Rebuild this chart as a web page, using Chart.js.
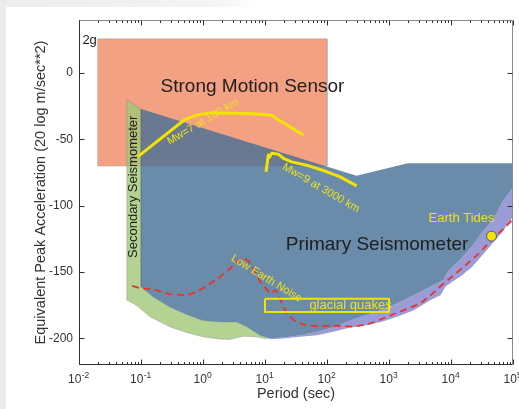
<!DOCTYPE html>
<html>
<head>
<meta charset="utf-8">
<script src="https://cdn.jsdelivr.net/npm/chart.js@4.4.1/dist/chart.umd.min.js"></script>
<style>
html,body{margin:0;padding:0;background:#fff;}
canvas{display:block;}
</style>
</head>
<body>
<canvas id="c" width="519" height="409"></canvas>
<script>
// ---------------- data (period in seconds, acceleration in dB) ----------------
const xMajorTicks = [1e-2, 1e-1, 1, 10, 100, 1e3, 1e4, 1e5];
const xTickBase = '10';
const xTickExponents = ['-2', '-1', '0', '1', '2', '3', '4', '5'];
const yTicks = [-200, -150, -100, -50, 0];
const yTickLabels = ['-200', '-150', '-100', '-50', '0'];

// Strong motion sensor (rectangle)
const strongPeriod = [0.02, 100, 100, 0.02, 0.02];
const strongAccel  = [25.8, 25.8, -70, -70, 25.8];

// Primary seismometer (outline)
const primaryPeriod = [0.1, 300, 2000, 1e5, 1e5, 67600, 50000, 31600, 23200, 15100, 8700, 7600, 5000, 3160, 1740, 930, 450, 250, 126, 69, 37, 20, 12, 8.3, 5.0, 3.47, 1.87, 1.0, 0.54, 0.29, 0.156, 0.1];
const primaryAccel  = [-27.1, -77.4, -68, -68, -86, -97, -109, -120, -129, -139, -150, -156, -160, -165, -171, -177, -182, -186, -191.5, -195, -197.5, -199.3, -199.8, -197.5, -191, -187.5, -187.5, -186.5, -181.9, -176.2, -168.6, -161.3];

// Long period band (purple) below the primary seismometer
const longPeriod = [12, 20, 37, 69, 126, 250, 450, 930, 1740, 3160, 5000, 7600, 8700, 15100, 23200, 31600, 50000, 67600, 1e5, 1e5, 67600, 46500, 32000, 22000, 15100, 10500, 8100, 6760, 4680, 2510, 1350, 813, 442, 237, 127, 68.5, 36.8, 19.8, 12];
const longAccel  = [-199.8, -199.3, -197.5, -195, -191.5, -186, -182, -177, -171, -165, -160, -156, -150, -139, -129, -120, -109, -97, -86, -108.3, -119.6, -128.4, -137.2, -146, -152.3, -157.3, -161.1, -167.4, -171, -178.7, -183.7, -187, -190, -191.7, -195, -197.5, -198.8, -200, -200.5];

// Secondary seismometer (outline)
const secondaryPeriod = [0.059, 0.1, 0.1, 0.156, 0.29, 0.54, 1.0, 1.87, 3.47, 5.0, 8.3, 12, 10, 7, 4.5, 3.5, 2.7, 1.9, 1.0, 0.54, 0.29, 0.14, 0.084, 0.059, 0.059];
const secondaryAccel  = [-20, -27.1, -161.3, -168.6, -176.2, -181.9, -186.5, -187.5, -187.5, -191, -197.5, -199.8, -200, -198.8, -198.3, -199.5, -200.8, -200.5, -198.8, -195.5, -191.2, -183.7, -174.9, -171.1, -20];

// Low Earth noise model (dashed red)
const noisePeriod = [0.072, 0.093, 0.16, 0.29, 0.54, 0.79, 1.21, 1.87, 2.72, 3.5, 4.5, 5.5, 7, 8.4, 10, 12, 15, 18.6, 22.4, 28.7, 41.7, 60, 100, 163, 270, 500, 930, 1730, 3210, 4680, 7210, 11100, 17200, 28200, 43700, 75900, 1e5];
const noiseAccel  = [-160.3, -162.0, -163.0, -166.6, -167.4, -164.9, -159.8, -153.6, -147.3, -142, -139, -142, -150, -157.3, -161.5, -166, -163.5, -173, -181, -186, -189.5, -190.5, -190.5, -190.5, -191.2, -188.7, -183.7, -178.7, -173.6, -167.5, -159.5, -152.3, -144.7, -135.9, -126.5, -115.9, -110];

// Mw=7 at 100 km
const mw7Period = [0.089, 0.51, 0.79, 1.29, 5.7, 12.8, 15, 41.7];
const mw7Accel  = [-63, -35, -31.7, -30, -30.4, -31.7, -34, -46.7];

// Mw=9 at 3000 km
const mw9Period = [10.4, 11.3, 11.8, 12.8, 16.4, 19.8, 27, 47, 99.6, 163, 300];
const mw9Accel  = [-74.4, -61.8, -63.5, -60.5, -61.1, -64.3, -66.9, -69.4, -74.4, -78.2, -85];

// Glacial quakes box
const glacialPeriod = [10, 1000, 1000, 10, 10];
const glacialAccel  = [-170, -170, -180, -180, -170];

// Earth tides
const tidesPeriod = [45000];
const tidesAccel  = [-122.9];

// ---------------- helpers ----------------
const FONT = "'Liberation Sans', Arial, Helvetica, sans-serif";
const zip = (xs, ys) => xs.map((x, i) => ({x: x, y: ys[i]}));

const areaSet = (xs, ys, fillColor, order, border, bw) => ({
  data: zip(xs, ys), showLine: true, fill: 'shape', backgroundColor: fillColor,
  borderColor: border || 'transparent', borderWidth: bw || 0, pointRadius: 0, tension: 0, order: order
});
const lineSet = (xs, ys, color, width, dash, order) => ({
  data: zip(xs, ys), showLine: true, fill: false, borderColor: color, borderWidth: width,
  borderDash: dash, pointRadius: 0, tension: 0, order: order, borderJoinStyle: 'round', borderCapStyle: 'butt'
});

const YELLOW = '#f4e300';

const datasets = [
  areaSet(strongPeriod, strongAccel, 'rgb(243,161,130)', 10, 'rgba(170,170,170,0.8)', 0.8),
  areaSet(longPeriod, longAccel, 'rgb(155,156,214)', 9),
  areaSet(secondaryPeriod, secondaryAccel, 'rgba(161,199,118,0.8)', 8, 'rgba(90,90,90,0.35)', 0.7),
  areaSet(primaryPeriod, primaryAccel, 'rgba(69,111,149,0.8)', 7),
  lineSet(noisePeriod, noiseAccel, '#e8322a', 1.8, [7, 4.5], 5),
  lineSet(mw7Period, mw7Accel, YELLOW, 3, [], 4),
  lineSet(mw9Period, mw9Accel, YELLOW, 3, [], 4),
  lineSet(glacialPeriod, glacialAccel, YELLOW, 2, [], 3),
  { data: zip(tidesPeriod, tidesAccel), showLine: false, pointRadius: 5, pointBackgroundColor: YELLOW,
    pointBorderColor: '#4a5a9a', pointBorderWidth: 1, order: 2 }
];

// text annotations: anchor in data coordinates
const notes = [
  {text: 'Strong Motion Sensor', p: 6.28, y: -10.3, size: 19, color: '#1e1e1e', rot: 0, align: 'center'},
  {text: 'Primary Seismometer', p: 641, y: -129.1, size: 19, color: '#1e1e1e', rot: 0, align: 'center'},
  {text: 'Secondary Seismometer', p: 0.0765, y: -85.7, size: 13, color: '#1e1e1e', rot: -90, align: 'center'},
  {text: '2g', p: 0.0194, y: 24.5, size: 13, color: '#1e1e1e', rot: 0, align: 'right'},
  {text: 'Earth Tides', p: 14800, y: -109.5, size: 13, color: '#efe01a', rot: 0, align: 'center'},
  {text: 'glacial quakes', p: 240, y: -174.9, size: 13, color: '#efe01a', rot: 0, align: 'center'},
  {text: 'Mw=7 at 100 km', p: 1.0, y: -36.7, size: 11, color: '#efe01a', rot: -30.5, align: 'center'},
  {text: 'Mw=9 at 3000 km', p: 80, y: -86.6, size: 11, color: '#efe01a', rot: 30.3, align: 'center'},
  {text: 'Low Earth Noise', p: 10.6, y: -154.8, size: 11, color: '#efe01a', rot: 31.5, align: 'center'}
];

// ---------------- plugins ----------------
const backgroundPlugin = {
  id: 'bg',
  beforeDraw(chart) {
    const c = chart.ctx;
    c.save();
    c.fillStyle = '#ffffff';
    c.fillRect(0, 0, chart.width, chart.height);
    const g = c.createLinearGradient(0, 0, 260, 0);
    g.addColorStop(0, '#ededed');
    g.addColorStop(0.8, '#f3f3f3');
    g.addColorStop(1, '#ffffff');
    c.fillStyle = g;
    c.fillRect(0, 0, 260, 7);
    c.fillStyle = '#ebebeb';
    c.fillRect(0, 0, 6, chart.height);
    c.restore();
  }
};

const axesPlugin = {
  id: 'axesBox',
  afterDatasetsDraw(chart) {
    const c = chart.ctx, a = chart.chartArea;
    const xs = chart.scales.x, ys = chart.scales.y;
    const L = Math.round(a.left) + 0.5, R = Math.round(a.right) - 0.5;
    const T = Math.round(a.top) + 0.5, B = Math.round(a.bottom) - 0.5;
    c.save();
    c.lineWidth = 1;
    c.strokeStyle = '#8a8a8a';
    c.beginPath(); c.moveTo(L, T); c.lineTo(R, T); c.lineTo(R, B); c.stroke();
    c.strokeStyle = '#303030';
    c.beginPath(); c.moveTo(L, T); c.lineTo(L, B); c.lineTo(R, B); c.stroke();
    c.beginPath();
    for (let d = -2; d <= 5; d++) {
      for (let k = 1; k <= 9; k++) {
        const v = k * Math.pow(10, d);
        if (v > 1e5 * 1.0001) break;
        const px = Math.round(xs.getPixelForValue(v)) + 0.5;
        const len = k === 1 ? 5 : 2.5;
        c.moveTo(px, B); c.lineTo(px, B - len);
        c.moveTo(px, T); c.lineTo(px, T + len);
      }
    }
    yTicks.forEach(v => {
      const py = Math.round(ys.getPixelForValue(v)) + 0.5;
      c.moveTo(L, py); c.lineTo(L + 5, py);
      c.moveTo(R, py); c.lineTo(R - 5, py);
    });
    c.stroke();
    c.restore();
  },
  afterDraw(chart) {
    const c = chart.ctx;
    const xs = chart.scales.x, ys = chart.scales.y;
    c.save();
    // x tick labels: base with raised exponent
    c.fillStyle = '#333333';
    c.textBaseline = 'alphabetic';
    c.textAlign = 'left';
    xMajorTicks.forEach((v, i) => {
      const px = xs.getPixelForValue(v);
      c.font = '12px ' + FONT;
      const wb = c.measureText(xTickBase).width;
      c.font = '8.5px ' + FONT;
      const we = c.measureText(xTickExponents[i]).width;
      const x0 = px - (wb + we) / 2 - 0.5;
      c.font = '12px ' + FONT;
      c.fillText(xTickBase, x0, 383);
      c.font = '8.5px ' + FONT;
      c.fillText(xTickExponents[i], x0 + wb + 0.3, 377.5);
    });
    notes.forEach(n => {
      c.save();
      c.translate(xs.getPixelForValue(n.p), ys.getPixelForValue(n.y));
      c.rotate(n.rot * Math.PI / 180);
      c.font = n.size + 'px ' + FONT;
      c.fillStyle = n.color;
      c.textAlign = n.align;
      c.textBaseline = 'middle';
      c.fillText(n.text, 0, 0);
      c.restore();
    });
    c.restore();
  }
};

// ---------------- chart ----------------
new Chart(document.getElementById('c').getContext('2d'), {
  type: 'scatter',
  data: { datasets: datasets },
  options: {
    responsive: false,
    animation: false,
    devicePixelRatio: 1,
    layout: { autoPadding: false, padding: { left: 0, right: 6, top: 20, bottom: 0 } },
    plugins: { legend: { display: false }, tooltip: { enabled: false } },
    elements: { line: { tension: 0 } },
    scales: {
      x: {
        type: 'logarithmic', position: 'bottom', min: 1e-2, max: 1e5,
        afterBuildTicks: s => { s.ticks = xMajorTicks.map(v => ({ value: v, major: true })); },
        afterFit: s => { s.height = 44; s.paddingLeft = 0; s.paddingRight = 0; },
        grid: { display: false, drawTicks: false },
        border: { display: false },
        ticks: { display: false },
        title: { display: true, text: 'Period (sec)', color: '#333333',
                 font: { family: FONT, size: 14.5 }, padding: { top: 0, bottom: 6 } }
      },
      y: {
        type: 'linear', position: 'left', min: -220, max: 40,
        afterBuildTicks: s => { s.ticks = yTicks.map(v => ({ value: v })); },
        afterFit: s => { s.width = 79; s.paddingTop = 0; s.paddingBottom = 0; },
        grid: { display: false, drawTicks: false },
        border: { display: false },
        ticks: {
          padding: 6, color: '#333333', font: { family: FONT, size: 12 },
          callback: (v, i) => yTickLabels[i]
        },
        title: { display: true, text: 'Equivalent Peak Acceleration (20 log m/sec**2)', color: '#333333',
                 font: { family: FONT, size: 14.5 }, padding: { top: 32, bottom: 0 } }
      }
    }
  },
  plugins: [backgroundPlugin, axesPlugin]
});
</script>
</body>
</html>
